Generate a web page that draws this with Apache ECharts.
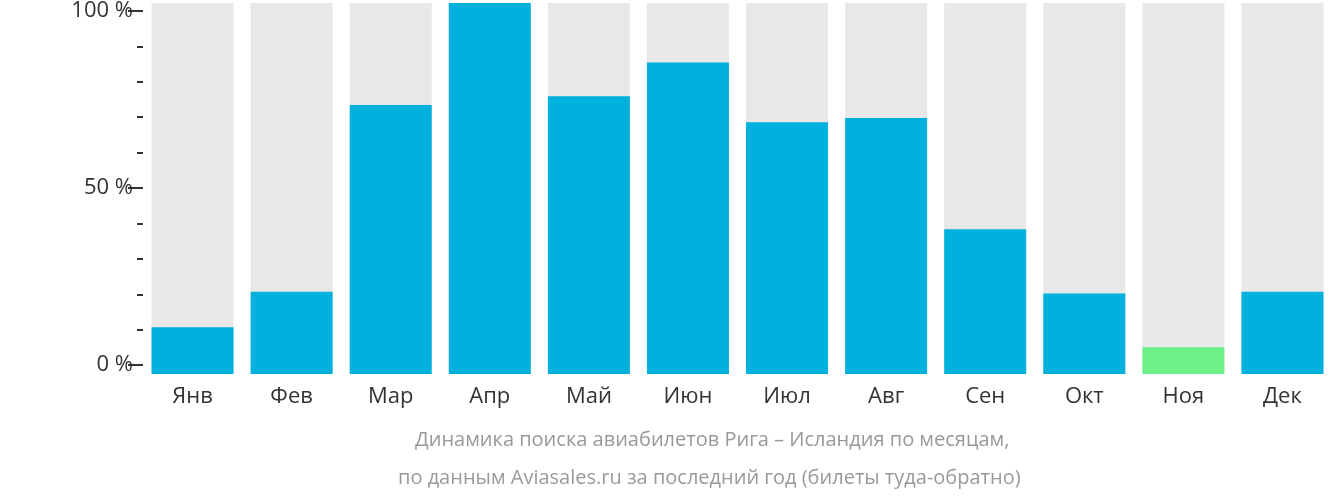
<!DOCTYPE html>
<html><head><meta charset="utf-8">
<script src="https://cdn.jsdelivr.net/npm/echarts@6/dist/echarts.min.js"></script>
<style>html,body{margin:0;padding:0;background:#fff}#c{width:1332px;height:502px}</style>
</head><body><div id="c"></div>
<script>
// months and share of searches, %
var months = ['Янв','Фев','Мар','Апр','Май','Июн','Июл','Авг','Сен','Окт','Ноя','Дек'];
var values = [12.6, 22.2, 72.5, 100, 74.9, 84, 67.9, 69, 39, 21.7, 7.2, 22.2];
var lowMonth = 'Ноя';
var majorTicks = [0, 50, 100];
var minorTicks = [10, 20, 30, 40, 60, 70, 80, 90];

var chart = echarts.init(document.getElementById('c'));
var font = '"Open Sans", sans-serif';
chart.setOption({
  animation: false,
  grid: {left: 143, width: 1200, top: 0, bottom: 128},
  xAxis: {
    type: 'category', data: months,
    axisLine: {show: false}, axisTick: {show: false},
    axisLabel: {color: '#333', fontSize: 22, fontFamily: font, margin: 12}
  },
  yAxis: [
    {type: 'value', min: 0, max: 100, show: false},
    {type: 'value', min: -2.52, max: 102.24, position: 'left', splitLine: {show: false},
      axisLine: {show: false},
      axisTick: {show: true, length: 15, customValues: majorTicks, lineStyle: {color: '#333', width: 2}},
      axisLabel: {customValues: majorTicks, formatter: '{value} %', color: '#333', fontSize: 22, fontFamily: font, margin: 10}},
    {type: 'value', min: -2.52, max: 102.24, position: 'left', splitLine: {show: false},
      axisLine: {show: false},
      axisTick: {show: true, length: 6, customValues: minorTicks, lineStyle: {color: '#333', width: 2}},
      axisLabel: {show: false}}
  ],
  series: [{
    type: 'bar', yAxisIndex: 0, barWidth: 82,
    showBackground: true, backgroundStyle: {color: '#e8e8e8'},
    data: values.map(function (v, i) {
      return {value: v, itemStyle: {color: months[i] === lowMonth ? '#6cf08a' : '#00b0dd'}};
    })
  }],
  graphic: [
    {type: 'text', left: 'center', top: 430, style: {text: 'Динамика поиска авиабилетов Рига – Исландия по месяцам,', fill: '#999', fontSize: 20, fontFamily: font}, left: 415},
    {type: 'text', top: 468, left: 398, style: {text: 'по данным Aviasales.ru за последний год (билеты туда-обратно)', fill: '#999', fontSize: 20, fontFamily: font}}
  ]
});
</script></body></html>
